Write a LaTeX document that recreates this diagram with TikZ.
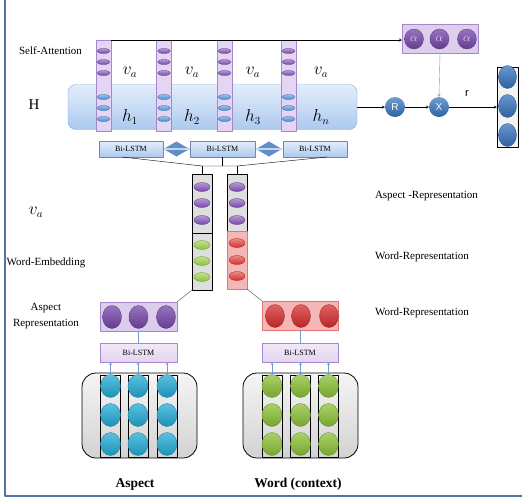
\documentclass[tikz,border=0pt]{standalone}
\usepackage{fontspec}
\setmainfont{Liberation Serif}
\setsansfont{Liberation Sans}
\usetikzlibrary{shapes.geometric,calc}
\definecolor{lav}{RGB}{228,214,242}
\definecolor{lavline}{RGB}{165,135,205}
\definecolor{plum}{RGB}{118,70,170}
\definecolor{skyb}{RGB}{70,140,215}
\definecolor{hboxtop}{RGB}{228,238,251}
\definecolor{hboxbot}{RGB}{172,201,239}
\definecolor{hline}{RGB}{140,170,215}
\definecolor{steel}{RGB}{55,115,190}
\definecolor{lnk}{RGB}{115,155,205}
\definecolor{leaf}{RGB}{140,195,55}
\definecolor{cherry}{RGB}{215,45,45}
\definecolor{blush}{RGB}{246,182,182}
\definecolor{blushline}{RGB}{228,115,115}
\definecolor{cyanb}{RGB}{35,172,215}
\definecolor{framec}{RGB}{85,115,160}
\begin{document}
\begin{tikzpicture}[x=1pt,y=-1pt,line join=round,>=stealth,
  every node/.style={inner sep=0pt,outer sep=0pt},
  lbl/.style={font=\fontsize{11}{16}\selectfont},
  mlbl/.style={font=\fontsize{16}{18}\selectfont},
  bead/.style={ellipse,minimum width=13pt,minimum height=5pt,draw=#1!75!black,line width=.3pt,top color=#1!55!white,bottom color=#1},
  orb/.style={ellipse,minimum width=19pt,minimum height=23pt,draw=#1!70!black,line width=.3pt,top color=#1!75!white,bottom color=#1!85!black},
  attcol/.style={rectangle,draw=lavline,fill=lav,minimum width=15pt,minimum height=91pt},
  lstm/.style={rectangle,draw=hline!80!black,top color=hboxtop,bottom color=hboxbot,minimum height=16pt,font=\fontsize{8}{9}\selectfont},
  plstm/.style={rectangle,draw=lavline,top color=lav!50,bottom color=lav!80!plum!60,minimum width=77pt,minimum height=19pt,font=\fontsize{8}{9}\selectfont},
  bidir/.style={diamond,fill=steel!80,minimum width=26pt,minimum height=15pt},
  op/.style={circle,minimum size=20pt,top color=steel!70!white,bottom color=steel!85!black,text=white,font=\sffamily\fontsize{10}{10}\selectfont},
  stack/.style={rectangle,draw,line width=.6pt,minimum width=20pt},
  tray/.style={rectangle,rounded corners=14pt,draw,line width=.8pt,top color=gray!8,bottom color=gray!35,minimum width=115pt,minimum height=85pt}]
\useasboundingbox (0,0) rectangle (522,499);
% frame
\draw[framec,line width=2.5pt] (5,0) -- (5,496) -- (522,496);

% self-attention layer
\node[rectangle,rounded corners=8pt,draw=hline,top color=hboxtop,bottom color=hboxbot,minimum width=289pt,minimum height=45pt] (hbox) at (212.5,107) {};
\foreach \i/\x in {1/103.5,2/164,3/224.5,4/288.5}{
  \node[attcol] (col\i) at (\x,85.5) {};
  \foreach \j/\y in {1/51,2/62,3/73} \node[bead=plum] (v\i\j) at (\x,\y) {};
  \foreach \j/\y in {1/97,2/108,3/119} \node[bead=skyb] (h\i\j) at (\x,\y) {};
}
\foreach \i/\x/\s in {1/130/1,2/192/2,3/253/3,4/321/n}{
  \node[mlbl] (vlab\i) at (\x,72) {$v_a$};
  \node[mlbl] (hlab\i) at (\x,117) {$h_\s$};
}
\node[lbl] (satt) at (50.5,51) {Self-Attention};
\node[font=\fontsize{15}{16}\selectfont] (hlbl) at (34,105) {H};

% attention weights and output
\node[rectangle,draw=lavline,fill=lav!80!plum!70,minimum width=76pt,minimum height=29pt] (abox) at (440,38.5) {};
\foreach \i/\x in {1/414,2/439.5,3/467} \node[orb=plum,minimum height=20pt,text=lav,font=\fontsize{12}{12}\selectfont] (al\i) at (\x,39) {$\alpha$};
\draw[->] (col1.north east) -- (col1.north east -| abox.west);
\node[op] (rnode) at (395,107) {R};
\node[op] (xnode) at (439,107) {X};
\node[rectangle,draw,line width=.8pt,fill=gray!10,minimum width=21pt,minimum height=80pt] (outcol) at (507.5,107) {};
\foreach \i/\y in {1/77,2/106,3/135} \node[orb=steel,minimum width=18pt] (o\i) at (507.5,\y) {};
\draw[->] (hbox.east) -- (rnode.west);
\draw[->] (rnode) -- (xnode);
\draw[->] (xnode) -- (outcol.west);
\draw[->,lnk] (abox.south) -- (xnode.north);
\node[font=\sffamily\fontsize{11}{12}\selectfont] (rlab) at (467,94) {r};

% upper Bi-LSTM
\node[lstm,minimum width=64pt] (bl1) at (131,149) {Bi-LSTM};
\node[lstm,minimum width=65pt] (bl2) at (222.5,149) {Bi-LSTM};
\node[lstm,minimum width=64pt] (bl3) at (315,149) {Bi-LSTM};
\path (bl1.east) -- (bl2.west) node[midway,bidir] (d1) {};
\path (bl2.east) -- (bl3.west) node[midway,bidir] (d2) {};
\foreach \d in {d1,d2} \draw[steel!30!white,line width=1.3pt] (\d.west) -- (\d.east);

% aspect / context vectors
\node[stack,fill=gray!25,minimum height=59pt] (avec) at (202,204) {};
\node[stack,fill=gray!25,minimum height=57pt] (aemb) at (202,261.5) {};
\node[stack,fill=gray!25,minimum height=57pt] (cvec) at (237,202.5) {};
\node[stack,draw=blushline,fill=blush,minimum height=58pt] (cemb) at (237,260) {};
\foreach \j/\y in {1/187,2/203,3/220}{
  \node[bead=plum,minimum width=16pt,minimum height=9pt] (av\j) at (202,\y) {};
  \node[bead=plum,minimum width=16pt,minimum height=9pt] (cv\j) at (237,\y) {};
}
\foreach \j/\y in {1/245,2/261,3/277} \node[bead=leaf,minimum width=16pt,minimum height=9pt] (ae\j) at (202,\y) {};
\foreach \j/\y in {1/243,2/260,3/276} \node[bead=cherry,minimum width=16pt,minimum height=9pt] (ce\j) at (237,\y) {};
\coordinate (jl) at (202,166);
\coordinate (jr) at (237,166);
\draw ($(bl1.south)+(-9,0)$) -- (jl) -- (jr) -- ($(bl3.south)+(12,0)$);
\draw (bl2.south) -- (bl2.south |- jl);
\draw (jl) -- (avec.north);
\draw (jr) -- (cvec.north);

% representations
\node[rectangle,draw=lavline,fill=lav!85!plum!80,minimum width=77pt,minimum height=29pt] (arep) at (138.5,316.5) {};
\foreach \i/\x in {1/112,2/138.5,3/166} \node[orb=plum] (ar\i) at (\x,317) {};
\node[rectangle,draw=blushline,fill=blush,minimum width=76pt,minimum height=29pt] (crep) at (300,315.5) {};
\foreach \i/\x in {1/275,2/301,3/329} \node[orb=cherry] (cr\i) at (\x,316) {};
\draw[gray!60!black] (aemb.south west) -- (arep.north east);
\draw[gray!60!black] (cemb.south east) -- (crep.north west);

% lower Bi-LSTM and inputs
\node[plstm] (abil) at (138.5,352.5) {Bi-LSTM};
\node[plstm,minimum width=76pt] (cbil) at (300,352.5) {Bi-LSTM};
\draw[lnk] (arep.south) -- (abil.north);
\draw[lnk] (crep.south) -- (cbil.north);
\node[tray] (ain) at (139.5,415.5) {};
\node[tray] (cin) at (300.5,415.5) {};
\foreach \i/\x in {1/110.5,2/138,3/167}{
  \node[stack,minimum height=82pt] (acol\i) at (\x,416) {};
  \foreach \j/\y in {1/386,2/415,3/444} \node[orb=cyanb,minimum width=20pt] (ai\i\j) at (\x,\y) {};
  \draw[->,lnk] (acol\i.north) -- (acol\i.north |- abil.south);
}
\foreach \i/\x in {1/272,2/300.5,3/328.5}{
  \node[stack,minimum height=82pt] (ccol\i) at (\x,416) {};
  \foreach \j/\y in {1/386,2/415,3/444} \node[orb=leaf,minimum width=20pt] (ci\i\j) at (\x,\y) {};
  \draw[->,lnk] (ccol\i.north) -- (ccol\i.north |- cbil.south);
}

% side labels
\node[mlbl] (vaside) at (36,212) {$v_a$};
\node[lbl] (wemb) at (46,263) {Word-Embedding};
\node[lbl,align=center] (asplbl) at (46,316) {Aspect\\Representation};
\node[lbl,anchor=west] (arlbl) at (375,196) {Aspect -Representation};
\node[lbl,anchor=west] (wrlbl1) at (375,257) {Word-Representation};
\node[lbl,anchor=west] (wrlbl2) at (375,313) {Word-Representation};
\node[font=\bfseries\fontsize{13.5}{14}\selectfont] (aspbot) at (135,484) {Aspect};
\node[font=\bfseries\fontsize{13.5}{14}\selectfont] (wordbot) at (298,484) {Word (context)};
\end{tikzpicture}
\end{document}
